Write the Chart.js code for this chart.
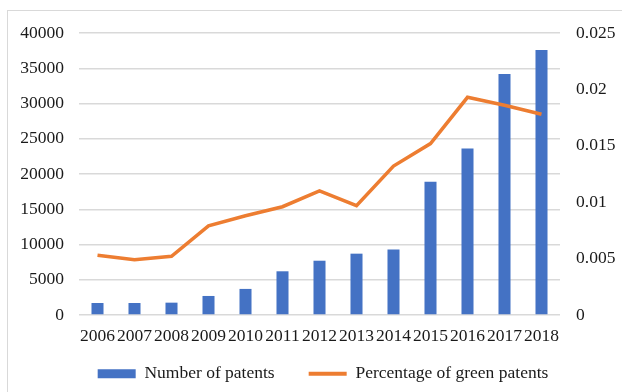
<!DOCTYPE html>
<html>
<head>
<meta charset="utf-8">
<script src="https://cdn.jsdelivr.net/npm/chart.js@4/dist/chart.umd.min.js"></script>
<style>
  html, body { margin: 0; padding: 0; background: #fff; overflow: hidden; }
  #wrap { position: relative; width: 622px; height: 392px; }
  #frame { position: absolute; left: 7px; top: 10px; width: 640px; height: 400px; border: 1px solid #d9d9d9; box-sizing: border-box; }
  canvas { position: absolute; left: 0; top: 0; }
</style>
</head>
<body>
<div id="wrap">
  <div id="frame"></div>
  <canvas id="myChart" width="622" height="392"></canvas>
</div>
<script>
const years = ["2006", "2007", "2008", "2009", "2010", "2011", "2012", "2013", "2014", "2015", "2016", "2017", "2018"];
const patents = [1700, 1700, 1750, 2700, 3700, 6200, 7700, 8700, 9300, 18900, 23600, 34200, 37600];
const greenShare = [0.0053, 0.0049, 0.0052, 0.0079, 0.0088, 0.0096, 0.011, 0.0097, 0.0132, 0.0152, 0.0193, 0.0186, 0.0178];

const font = { family: "Liberation Serif", size: 17.5 };
const ink = "#1a1a1a";

// nudge the legend down/right after layout (it keeps wide horizontal gaps)
const legendNudge = {
  id: "legendNudge",
  afterLayout(chart) {
    const lg = chart.legend;
    if (!lg) return;
    lg.top = 331;
    lg.bottom = 392;
    lg.height = 61;
    lg.left += 12;
    lg.right += 12;
  },
};

const ctx = document.getElementById("myChart");

new Chart(ctx, {
  type: "bar",
  data: {
    labels: years,
    datasets: [
      {
        label: "Number of patents",
        data: patents,
        backgroundColor: "#4472C4",
        borderColor: "#4472C4",
        borderWidth: 0,
        barPercentage: 0.65,
        categoryPercentage: 0.5,
        yAxisID: "y",
        order: 2,
      },
      {
        type: "line",
        label: "Percentage of green patents",
        data: greenShare,
        borderColor: "#ED7D31",
        backgroundColor: "#ED7D31",
        borderWidth: 3.5,
        pointRadius: 0,
        tension: 0,
        yAxisID: "y1",
        order: 1,
      },
    ],
  },
  plugins: [legendNudge],
  options: {
    responsive: false,
    animation: false,
    layout: { padding: { top: 33, left: 0, right: 0, bottom: 0 } },
    plugins: {
      tooltip: { enabled: false },
      legend: {
        position: "bottom",
        maxHeight: 47,
        labels: {
          font: font,
          color: ink,
          usePointStyle: true,
          pointStyleWidth: 38,
          boxHeight: 9,
          padding: 34,
          sort: (a, b) => a.datasetIndex - b.datasetIndex,
          generateLabels(chart) {
            const items = Chart.defaults.plugins.legend.labels.generateLabels(chart);
            items.forEach((it) => {
              if (it.datasetIndex === 0) {
                it.pointStyle = "rect";
                it.lineWidth = 0;
              } else {
                it.pointStyle = "line";
                it.lineWidth = 4;
              }
            });
            return items;
          },
        },
      },
    },
    scales: {
      x: {
        grid: { display: false, drawTicks: false },
        border: { display: false },
        ticks: { font: font, color: ink, maxRotation: 0, autoSkip: false, padding: 11 },
        afterFit(scale) { scale.height = 30; },
      },
      y: {
        position: "left",
        min: 0,
        max: 40000,
        ticks: { stepSize: 5000, font: font, color: ink, padding: 15, callback: (v) => String(v) },
        grid: { color: "#d9d9d9", lineWidth: 1.5, drawTicks: false },
        border: { display: false },
        afterFit(scale) { scale.width = 79; },
      },
      y1: {
        position: "right",
        min: 0,
        max: 0.025,
        ticks: {
          stepSize: 0.005,
          font: font,
          color: ink,
          padding: 16,
          callback: (v) => String(Number(v.toFixed(3))),
        },
        grid: { display: false, drawTicks: false },
        border: { display: false },
        afterFit(scale) { scale.width = 62; },
      },
    },
  },
});
</script>
</body>
</html>
